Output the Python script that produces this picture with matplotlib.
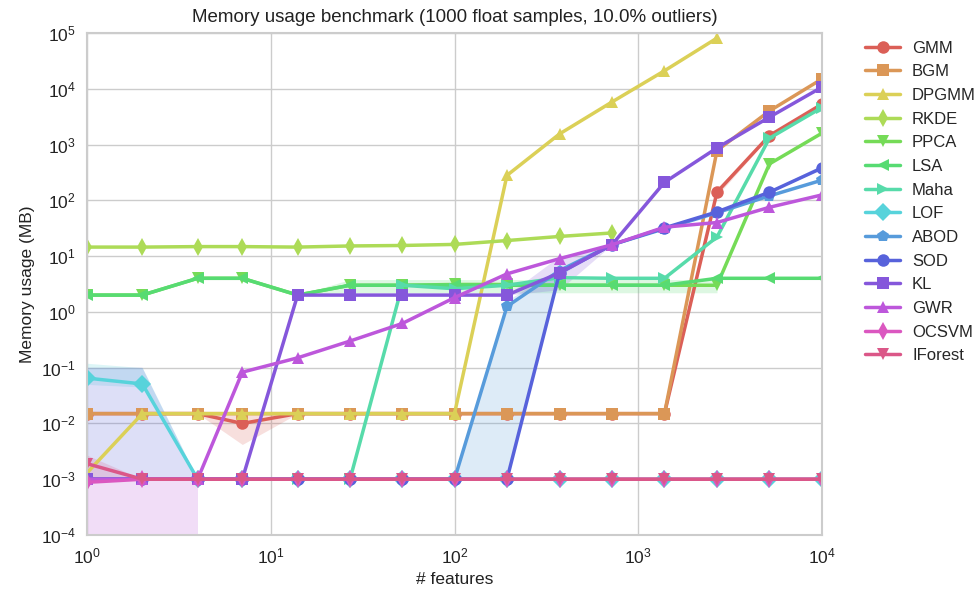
import numpy as np
import matplotlib
matplotlib.use('Agg')
import matplotlib.pyplot as plt
import seaborn as sns

sns.set_style("whitegrid")
plt.rcParams['font.family'] = ['Liberation Sans', 'DejaVu Sans']
plt.rcParams['mathtext.default'] = 'regular'

nan = np.nan

# number of features
features = [1, 2, 4, 7, 14, 27, 52, 100, 193, 373, 720, 1389, 2683, 5179, 10000]

names = ['GMM', 'BGM', 'DPGMM', 'RKDE', 'PPCA', 'LSA', 'Maha', 'LOF',
         'ABOD', 'SOD', 'KL', 'GWR', 'OCSVM', 'IForest']
markers = ['o', 's', '^', 'd', 'v', '<', '>', 'D', 'p', 'o', 's', '^', 'd', 'v']

# memory usage (MB), mean over runs
gmm = [0.015, 0.015, 0.015, 0.01, 0.015, 0.015, 0.015, 0.015, 0.015, 0.015, 0.015, 0.015, 140, 1450, 5300]
bgm = [0.015, 0.015, 0.015, 0.015, 0.015, 0.015, 0.015, 0.015, 0.015, 0.015, 0.015, 0.015, 780, 4000, 15000]
dpgmm = [0.0013, 0.015, 0.015, 0.015, 0.015, 0.015, 0.015, 0.015, 280, 1550, 5800, 21000, 81000, nan, nan]
rkde = [14.5, 14.5, 14.8, 14.8, 14.5, 15.2, 15.5, 16.2, 19, 22.5, 26, nan, nan, nan, nan]
ppca = [2, 2, 4, 4, 2, 3, 3, 3.1, 3.1, 3, 3, 3, 3, 450, 1600]
lsa = [2, 2, 4, 4, 2, 3, 3, 3, 3, 3, 3, 3, 4, 4, 4]
maha = [0.001, 0.001, 0.001, 0.001, 0.001, 0.001, 3, 2.6, 3, 4.1, 4, 4, 22, 1300, 4600]
lof = [0.065, 0.051, 0.001, 0.001, 0.001, 0.001, 0.001, 0.001, 0.001, 0.001, 0.001, 0.001, 0.001, 0.001, 0.001]
abod = [0.001, 0.001, 0.001, 0.001, 0.001, 0.001, 0.001, 0.001, 1.25, 5.5, 16, 31, 60, 120, 230]
sod = [0.001, 0.001, 0.001, 0.001, 0.001, 0.001, 0.001, 0.001, 0.001, 5, 16, 32, 62, 140, 380]
kl = [0.001, 0.001, 0.001, 0.001, 2, 2, 2, 2, 2, 5, 16, 210, 870, 3100, 10700]
gwr = [0.001, 0.001, 0.001, 0.083, 0.15, 0.3, 0.62, 1.8, 4.8, 9, 16, 33, 40, 75, 125]
ocsvm = [0.00088, 0.001, 0.001, 0.001, 0.001, 0.001, 0.001, 0.001, 0.001, 0.001, 0.001, 0.001, 0.001, 0.001, 0.001]
iforest = [0.0019, 0.001, 0.001, 0.001, 0.001, 0.001, 0.001, 0.001, 0.001, 0.001, 0.001, 0.001, 0.001, 0.001, 0.001]

series = [gmm, bgm, dpgmm, rkde, ppca, lsa, maha, lof, abod, sod, kl, gwr, ocsvm, iforest]

# spread bands (lower, upper) for the runs that varied
bands = {
    'GMM': ([0.015, 0.015, 0.015, 0.0042, 0.015, 0.015, 0.015, 0.015, 0.015, 0.015, 0.015, 0.015, 120, 1400, 5000],
            [0.015, 0.015, 0.015, 0.015, 0.015, 0.015, 0.015, 0.015, 0.015, 0.015, 0.015, 0.015, 165, 1500, 5600]),
    'LSA': ([2, 2, 4, 4, 2, 2.2, 2.2, 2.2, 2.2, 2.2, 2.2, 2.2, 2.2, nan, nan],
            [2, 2, 4, 4, 2, 3.8, 3.8, 3.8, 3.8, 3.8, 3.8, 3.8, 3.8, nan, nan]),
    'LOF': ([0.05, 0.045, 0.001, nan, nan, nan, nan, nan, nan, nan, nan, nan, nan, nan, nan],
            [0.12, 0.1, 0.001, nan, nan, nan, nan, nan, nan, nan, nan, nan, nan, nan, nan]),
    'ABOD': ([nan, nan, nan, nan, nan, nan, 0.001, 0.001, 0.001, 4.5, 16, 31, nan, nan, nan],
             [nan, nan, nan, nan, nan, nan, 0.001, 0.001, 1.6, 6, 16, 31, nan, nan, nan]),
    'SOD': ([0.001, 0.001, 0.001, nan, nan, nan, nan, nan, nan, nan, nan, nan, 60, 135, 350],
            [0.1, 0.1, 0.001, nan, nan, nan, nan, nan, nan, nan, nan, nan, 64, 145, 420]),
    'KL': ([nan, nan, nan, nan, nan, nan, nan, 2, 2, 2.5, 16, nan, nan, nan, nan],
           [nan, nan, nan, nan, nan, nan, nan, 2, 2, 10, 16, nan, nan, nan, nan]),
    'GWR': ([0.00005, 0.00005, 0.00005, nan, nan, nan, nan, nan, nan, nan, nan, nan, nan, nan, nan],
            [0.001, 0.001, 0.001, nan, nan, nan, nan, nan, nan, nan, nan, nan, nan, nan, nan]),
    'IForest': ([0.001, 0.001, 0.001, nan, nan, nan, nan, nan, nan, nan, nan, nan, nan, nan, nan],
                [0.0027, 0.001, 0.001, nan, nan, nan, nan, nan, nan, nan, nan, nan, nan, nan, nan]),
}

colors = sns.color_palette("hls", len(names))

fig = plt.figure(figsize=(9.79, 5.93), dpi=100)
ax = fig.add_axes([0.0889, 0.0978, 0.7507, 0.8466])

for name, vals, mk, c in zip(names, series, markers, colors):
    if name in bands:
        lo, hi = bands[name]
        ax.fill_between(features, lo, hi, color=c, alpha=0.2, lw=0)
    ax.plot(features, vals, marker=mk, color=c, lw=2.5, ms=9, mew=0, label=name)

ax.set_xscale('log')
ax.set_yscale('log')
ax.set_xlim(1, 10000)
ax.set_ylim(1e-4, 1e5)
ax.minorticks_off()
ax.grid(True, color='#cccccc', lw=1)
for s in ax.spines.values():
    s.set_color('#cccccc')
    s.set_linewidth(1.5)
ax.tick_params(labelsize=12.5, colors='#222222', length=0, pad=8)
ax.set_xlabel('# features', fontsize=12.5, color='#222222')
ax.set_ylabel('Memory usage (MB)', fontsize=12.5, color='#222222')
ax.set_title('Memory usage benchmark (1000 float samples, 10.0% outliers)', fontsize=13.5,
             color='#222222', pad=8)

ax.legend(loc='upper left', bbox_to_anchor=(1.05, 0.998), frameon=False, fontsize=12,
          labelspacing=0.52, handlelength=2.1, handletextpad=0.7, borderaxespad=0)

fig.savefig('out.png', dpi=100)
